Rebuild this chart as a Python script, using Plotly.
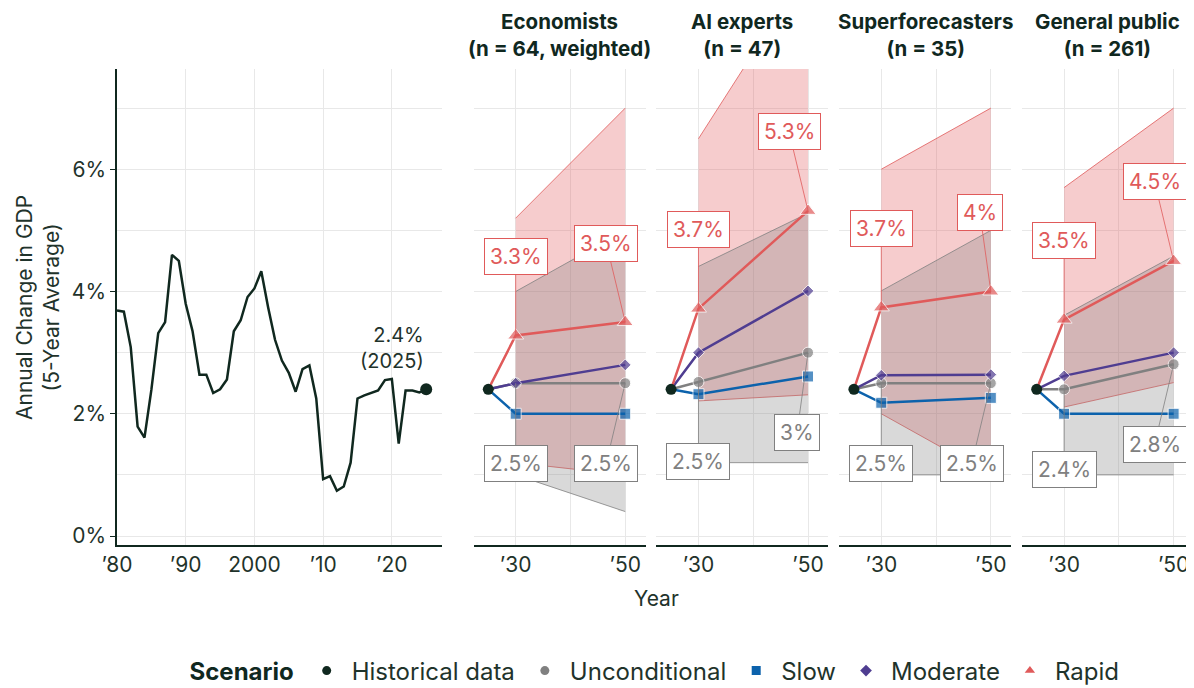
import plotly.graph_objects as go

# ---- data ----
hist_years = list(range(1980, 2026))
hist_gdp = [3.69, 3.67, 3.09, 1.79, 1.61, 2.39, 3.32, 3.50, 4.60, 4.50,
            3.80, 3.35, 2.64, 2.64, 2.34, 2.40, 2.56, 3.35, 3.53, 3.91,
            4.05, 4.33, 3.74, 3.21, 2.87, 2.67, 2.36, 2.73, 2.79, 2.25,
            0.93, 0.98, 0.74, 0.81, 1.20, 2.25, 2.30, 2.34, 2.38, 2.55,
            2.57, 1.51, 2.38, 2.38, 2.35, 2.40]

groups = ["Economists", "AI experts", "Superforecasters", "General public"]
group_n = ["(n = 64, weighted)", "(n = 47)", "(n = 35)", "(n = 261)"]

start_year = 2025
start_value = 2.4
forecast_years = [2030, 2050]

unconditional = [[2.50, 2.50], [2.52, 3.00], [2.50, 2.50], [2.40, 2.81]]
slow = [[2.00, 2.00], [2.32, 2.61], [2.18, 2.26], [2.00, 2.00]]
moderate = [[2.50, 2.80], [3.00, 4.01], [2.63, 2.64], [2.62, 3.00]]
rapid = [[3.28, 3.50], [3.72, 5.32], [3.74, 4.00], [3.54, 4.50]]

uncond_low = [[1.00, 0.40], [1.20, 1.20], [1.00, 1.00], [1.00, 1.00]]
uncond_high = [[4.00, 5.00], [4.41, 5.28], [4.01, 5.00], [3.61, 4.58]]
rapid_low = [[1.20, 1.00], [2.21, 2.31], [2.00, 1.00], [2.11, 2.51]]
rapid_high = [[5.20, 7.00], [6.50, 9.30], [6.00, 7.00], [5.70, 7.00]]

# ---- styles ----
DARK = "#10281F"
TEXT = "#1F332B"
GREY = "#808080"
BLUE = "#0C62AC"
PURPLE = "#4F3D91"
RED = "#E05A5A"
GRID = "#E8E8E8"
FONT = "Inter"

# page body adds an 8px margin, so the figure is a bit smaller than the window
OFF = 8
W, H = 1194 - OFF, 688 - OFF


def px(xp):
    return (xp - OFF) / W


def py(yp):
    return (688 - yp) / H


y_dom = [py(545), py(69)]
y_range = [-0.147, 7.64]
left_dom = [px(117), px(442)]
panel_left = [473.5, 656.3, 839.1, 1021.9]
panel_w = 172


def fmt(v):
    return f"{round(v, 1):g}%"


fig = go.Figure()

# historical panel
fig.add_trace(go.Scatter(x=hist_years, y=hist_gdp, mode="lines",
                         line=dict(color=DARK, width=2.5), showlegend=False,
                         xaxis="x", yaxis="y", hoverinfo="skip"))
fig.add_trace(go.Scatter(x=[hist_years[-1]], y=[hist_gdp[-1]], mode="markers",
                         marker=dict(color=DARK, size=12), showlegend=False,
                         xaxis="x", yaxis="y"))

annotations = []
annotations.append(dict(x=hist_years[-1], y=hist_gdp[-1], xref="x", yref="y",
                        text="2.4%<br>(2025)", showarrow=False, xanchor="right",
                        yanchor="bottom", yshift=14, xshift=0, align="right",
                        font=dict(size=20, color=TEXT, family=FONT)))

series = [
    (unconditional, GREY, "circle", 11),
    (slow, BLUE, "square", 11),
    (moderate, PURPLE, "diamond", 9),
    (rapid, RED, "triangle-up", 14),
]

for i in range(4):
    xa = f"x{i + 2}"
    ya = f"y{i + 2}"
    # rapid ribbon, then unconditional ribbon on top
    for low, high, col, fill in [(rapid_low, rapid_high, RED, "rgba(225,87,89,0.3)"),
                                 (uncond_low, uncond_high, GREY, "rgba(128,128,128,0.3)")]:
        fig.add_trace(go.Scatter(x=forecast_years, y=low[i], mode="lines",
                                 line=dict(color=col, width=0.8), showlegend=False,
                                 xaxis=xa, yaxis=ya, hoverinfo="skip"))
        fig.add_trace(go.Scatter(x=forecast_years, y=high[i], mode="lines",
                                 line=dict(color=col, width=0.8), fill="tonexty",
                                 fillcolor=fill, showlegend=False,
                                 xaxis=xa, yaxis=ya, hoverinfo="skip"))
    for vals, col, sym, size in series:
        fig.add_trace(go.Scatter(x=[start_year] + forecast_years,
                                 y=[start_value] + vals[i],
                                 mode="lines+markers",
                                 line=dict(color=col, width=2.5),
                                 marker=dict(color=col, symbol=sym, size=[0, size, size]),
                                 showlegend=False, xaxis=xa, yaxis=ya))
    fig.add_trace(go.Scatter(x=[start_year], y=[start_value], mode="markers",
                             marker=dict(color=DARK, size=11), showlegend=False,
                             xaxis=xa, yaxis=ya))

    # labels
    for vals, col, dy in [(rapid, RED, -79), (unconditional, GREY, 80)]:
        for j, yr in enumerate(forecast_years):
            txt = fmt(vals[i][j])
            dx = 0 if j == 0 else (-19 if len(txt) > 2 else -11)
            annotations.append(dict(
                x=yr, y=vals[i][j], xref=xa, yref=ya, text=txt,
                showarrow=True, arrowhead=0, arrowwidth=0.8, arrowcolor=col,
                ax=dx, ay=dy, standoff=0,
                bgcolor="white", bordercolor=col, borderwidth=1, borderpad=5,
                font=dict(size=21, color=col, family=FONT)))

    # two-line panel title
    annotations.append(dict(x=px(panel_left[i] + panel_w / 2), y=py(35),
                            xref="paper", yref="paper", xanchor="center", yanchor="middle",
                            text=f"<b>{groups[i]}<br>{group_n[i]}</b>", showarrow=False,
                            font=dict(size=20.5, color=DARK, family=FONT)))

# legend entries
legend_items = [("Historical data", DARK, "circle"), ("Unconditional", GREY, "circle"),
                ("Slow", BLUE, "square"), ("Moderate", PURPLE, "diamond"),
                ("Rapid", RED, "triangle-up")]
for name, col, sym in legend_items:
    fig.add_trace(go.Scatter(x=[None], y=[None], mode="markers", name=name,
                             marker=dict(color=col, symbol=sym, size=9),
                             xaxis="x", yaxis="y"))

annotations.append(dict(x=px(657), y=py(598), xref="paper", yref="paper",
                        xanchor="center", yanchor="middle",
                        text="Year", showarrow=False,
                        font=dict(size=21, color=TEXT, family=FONT)))
annotations.append(dict(x=px(38), y=py(308), xref="paper", yref="paper",
                        xanchor="center", yanchor="middle",
                        text="Annual Change in GDP<br>(5-Year Average)", showarrow=False,
                        textangle=-90, font=dict(size=21, color=TEXT, family=FONT)))

axis_common = dict(showgrid=True, gridcolor=GRID, gridwidth=1, zeroline=False,
                   automargin=False,
                   tickfont=dict(size=21, color=TEXT, family=FONT))

layout = dict(
    width=W, height=H, margin=dict(l=0, r=0, t=0, b=0, autoexpand=False),
    plot_bgcolor="white", paper_bgcolor="white",
    font=dict(family=FONT, color=TEXT),
    annotations=annotations,
    legend=dict(orientation="h", x=px(656), xanchor="center", y=py(671),
                yanchor="middle", traceorder="normal",
                title=dict(text="<b>Scenario</b>", side="left",
                           font=dict(size=24, color=DARK, family=FONT)),
                font=dict(size=24, color=TEXT, family=FONT), itemwidth=40),
    xaxis=dict(axis_common, domain=left_dom, range=[1980, 2027.3], anchor="y",
               tickvals=[1980, 1990, 2000, 2010, 2020],
               ticktext=["\u201980", "\u201990", "2000", "\u201910", "\u201920"],
               showline=True, linecolor=DARK, linewidth=1.5),
    yaxis=dict(axis_common, domain=y_dom, range=y_range, anchor="x",
               tickvals=[0, 2, 4, 6], ticktext=["0%", "2%", "4%", "6%"],
               ticks="outside", ticklen=5, tickcolor=DARK,
               showline=True, linecolor=DARK, linewidth=1.5,
               minor=dict(tickvals=[1, 3, 5, 7], showgrid=True, gridcolor=GRID)),
)
for i in range(4):
    layout[f"xaxis{i + 2}"] = dict(axis_common,
                                   domain=[px(panel_left[i]), min(px(panel_left[i] + panel_w), 1)],
                                   range=[2022.3, 2053.7],
                                   anchor=f"y{i + 2}", tickvals=forecast_years,
                                   ticktext=["\u201930", "\u201950"],
                                   showline=True, linecolor=DARK, linewidth=1.5,
                                   minor=dict(tickvals=[2040], showgrid=True, gridcolor=GRID))
    layout[f"yaxis{i + 2}"] = dict(axis_common, domain=y_dom, range=y_range,
                                   anchor=f"x{i + 2}", tickvals=[0, 2, 4, 6],
                                   showticklabels=False, showline=False,
                                   minor=dict(tickvals=[1, 3, 5, 7], showgrid=True,
                                              gridcolor=GRID))

fig.update_layout(layout)
fig.write_html("out.html")
